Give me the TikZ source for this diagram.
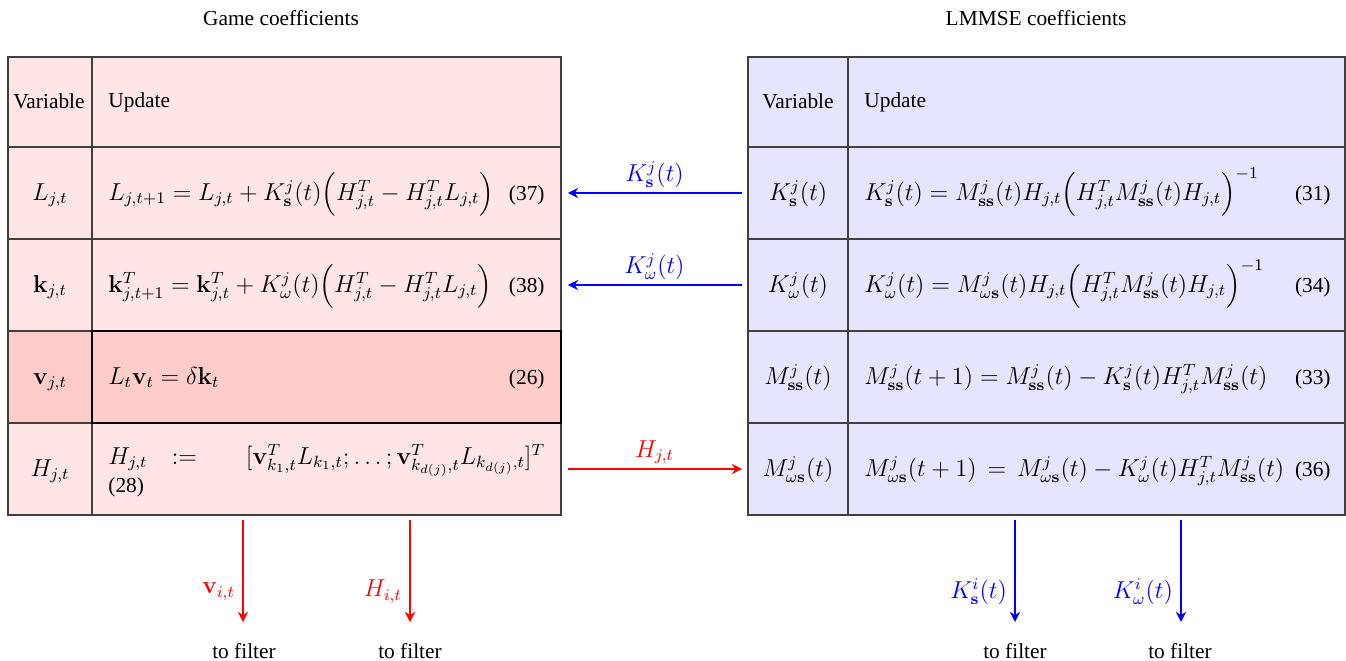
\documentclass[tikz,border=0pt]{standalone}
\usepackage{amsmath,amssymb}
\usepackage[no-math]{fontspec}
\setmainfont{Liberation Serif}[Scale=0.88]
\usetikzlibrary{arrows.meta,fit}
\begin{document}
\fontsize{11.9}{14}\selectfont
\begin{tikzpicture}[x=0.49pt,y=-0.49pt,
  cellL/.style={draw=black!75, line width=0.75pt, fill=red!10, inner sep=0pt},
  cellV/.style={draw=black!75, line width=0.75pt, fill=red!20, inner sep=0pt},
  cellVU/.style={draw=black, line width=1.1pt, fill=red!20, inner sep=0pt},
  cellR/.style={draw=black!75, line width=0.75pt, fill=blue!10, inner sep=0pt},
  txt/.style={anchor=base, inner sep=0pt},
  eq/.style={anchor=base west, inner sep=0pt},
  num/.style={anchor=base east, inner sep=0pt},
  barrow/.style={draw=blue, line width=1pt, -{Stealth[length=5pt,width=5pt]}},
  rarrow/.style={draw=red, line width=1pt, -{Stealth[length=5pt,width=5pt]}},
  lab/.style={inner sep=2pt}]
\useasboundingbox (0,0) rectangle (1346,660);

% titles
\node (tg) at (281,18) {Game coefficients};
\node (tl) at (1036,18) {LMMSE coefficients};

% left table cells
\node[cellL, fit={(8,57)(92,147)}] (lv0) {};
\node[cellL, fit={(92,57)(561,147)}] (lu0) {};
\node[cellL, fit={(8,147)(92,239)}] (lv1) {};
\node[cellL, fit={(92,147)(561,239)}] (lu1) {};
\node[cellL, fit={(8,239)(92,331)}] (lv2) {};
\node[cellL, fit={(92,239)(561,331)}] (lu2) {};
\node[cellV, fit={(8,331)(92,423)}] (lv3) {};
\node[cellL, fit={(8,423)(92,515)}] (lv4) {};
\node[cellL, fit={(92,423)(561,515)}] (lu4) {};
\node[cellVU, fit={(92,331)(561,423)}] (lu3) {};

% right table cells
\node[cellR, fit={(748,57)(848,147)}] (rv0) {};
\node[cellR, fit={(848,57)(1345,147)}] (ru0) {};
\node[cellR, fit={(748,147)(848,239)}] (rv1) {};
\node[cellR, fit={(848,147)(1345,239)}] (ru1) {};
\node[cellR, fit={(748,239)(848,331)}] (rv2) {};
\node[cellR, fit={(848,239)(1345,331)}] (ru2) {};
\node[cellR, fit={(748,331)(848,423)}] (rv3) {};
\node[cellR, fit={(848,331)(1345,423)}] (ru3) {};
\node[cellR, fit={(748,423)(848,515)}] (rv4) {};
\node[cellR, fit={(848,423)(1345,515)}] (ru4) {};

% left headers and contents
\node[txt] (lh1) at (49,108) {Variable};
\node[eq] (lh2) at (108,107) {Update};
\node[txt] (lt1) at (50,200) {$L_{j,t}$};
\node[txt] (lt2) at (50,292) {$\mathbf{k}_{j,t}$};
\node[txt] (lt3) at (50,384) {$\mathbf{v}_{j,t}$};
\node[txt] (lt4) at (50,476) {$H_{j,t}$};

\node[eq] (le1) at (108,200) {$L_{j,t+1} = L_{j,t} + K^j_{\mathbf{s}}(t)\Big(H^T_{j,t} - H^T_{j,t}L_{j,t}\Big)$};
\node[num] (ln1) at (545,200) {(37)};
\node[eq] (le2) at (108,292) {$\mathbf{k}^T_{j,t+1} = \mathbf{k}^T_{j,t} + K^j_{\omega}(t)\Big(H^T_{j,t} - H^T_{j,t}L_{j,t}\Big)$};
\node[num] (ln2) at (545,292) {(38)};
\node[eq] (le3) at (108,384) {$L_t\mathbf{v}_t = \delta\mathbf{k}_t$};
\node[num] (ln3) at (545,384) {(26)};
\node[eq] (le4) at (108,464) {\makebox[214pt][s]{$H_{j,t}$\hspace{0pt plus 1fil}${:=}$\hspace{0pt plus 2fil}$[\mathbf{v}^T_{k_1,t}L_{k_1,t};\ldots;\mathbf{v}^T_{k_{d(j)},t}L_{k_{d(j)},t}]^T$}};
\node[eq] (ln4) at (108,492) {(28)};

% right headers and contents
\node[txt] (rh1) at (798,108) {Variable};
\node[eq] (rh2) at (864,107) {Update};
\node[txt] (rt1) at (798,200) {$K^j_{\mathbf{s}}(t)$};
\node[txt] (rt2) at (798,292) {$K^j_{\omega}(t)$};
\node[txt] (rt3) at (798,384) {$M^j_{\mathbf{ss}}(t)$};
\node[txt] (rt4) at (798,476) {$M^j_{\omega\mathbf{s}}(t)$};

\node[eq] (re1) at (864,200) {$K^j_{\mathbf{s}}(t) = M^j_{\mathbf{ss}}(t)H_{j,t}\Big(H^T_{j,t}M^j_{\mathbf{ss}}(t)H_{j,t}\Big)^{-1}$};
\node[num] (rn1) at (1331,200) {(31)};
\node[eq] (re2) at (864,292) {$K^j_{\omega}(t) = M^j_{\omega\mathbf{s}}(t)H_{j,t}\Big(H^T_{j,t}M^j_{\mathbf{ss}}(t)H_{j,t}\Big)^{-1}$};
\node[num] (rn2) at (1331,292) {(34)};
\node[eq] (re3) at (864,384) {$M^j_{\mathbf{ss}}(t+1) = M^j_{\mathbf{ss}}(t) - K^j_{\mathbf{s}}(t)H^T_{j,t}M^j_{\mathbf{ss}}(t)$};
\node[num] (rn3) at (1331,384) {(33)};
\node[eq] (re4) at (864,476) {$M^j_{\omega\mathbf{s}}(t+1)\hspace{2pt}=\hspace{2pt}M^j_{\omega\mathbf{s}}(t) - K^j_{\omega}(t)H^T_{j,t}M^j_{\mathbf{ss}}(t)$};
\node[num] (rn4) at (1331,476) {(36)};

% horizontal connectors
\draw[barrow, shorten <=2.5pt, shorten >=3pt] (rv1.west) -- (lu1.east)
  node[midway, above, lab, text=blue] (k1lab) {$K^j_{\mathbf{s}}(t)$};
\draw[barrow, shorten <=2.5pt, shorten >=3pt] (rv2.west) -- (lu2.east)
  node[midway, above, lab, text=blue] (k2lab) {$K^j_{\omega}(t)$};
\draw[rarrow, shorten <=3pt, shorten >=2.5pt] (lu4.east) -- (rv4.west)
  node[midway, above, lab, text=red] (h1lab) {$H_{j,t}$};

% down arrows
\coordinate (d1s) at (243,520); \coordinate (d1e) at (243,622);
\coordinate (d2s) at (410,520); \coordinate (d2e) at (410,622);
\coordinate (d3s) at (1015,520); \coordinate (d3e) at (1015,622);
\coordinate (d4s) at (1181,520); \coordinate (d4e) at (1181,622);
\draw[rarrow] (d1s) -- (d1e) node[pos=0.7, left, text=red] (l1) {$\mathbf{v}_{i,t}$};
\draw[rarrow] (d2s) -- (d2e) node[pos=0.7, left, text=red] (l2) {$H_{i,t}$};
\draw[barrow] (d3s) -- (d3e) node[pos=0.7, left, text=blue] (l3) {$K^i_{\mathbf{s}}(t)$};
\draw[barrow] (d4s) -- (d4e) node[pos=0.7, left, text=blue] (l4) {$K^i_{\omega}(t)$};
\node[txt] (f1) at (244,658) {to filter};
\node[txt] (f2) at (410,658) {to filter};
\node[txt] (f3) at (1015,658) {to filter};
\node[txt] (f4) at (1180,658) {to filter};
\end{tikzpicture}
\end{document}
